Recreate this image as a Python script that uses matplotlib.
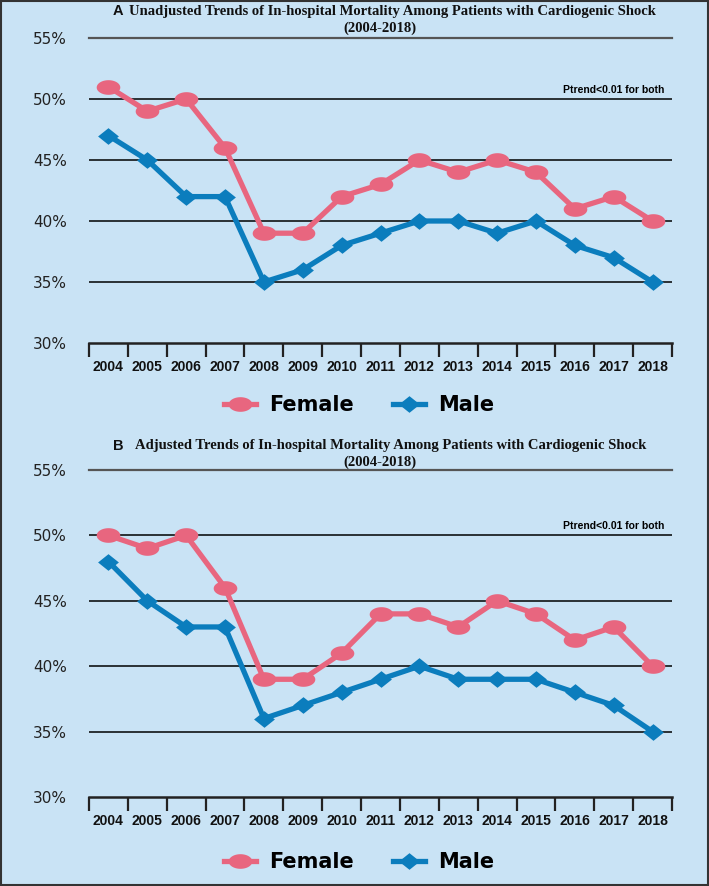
import matplotlib
matplotlib.use("Agg")
import matplotlib.pyplot as plt
import numpy as np
from matplotlib.lines import Line2D
from matplotlib.patches import Rectangle
from matplotlib.path import Path

years = ["2004", "2005", "2006", "2007", "2008", "2009", "2010", "2011",
         "2012", "2013", "2014", "2015", "2016", "2017", "2018"]
female_unadj = [51, 49, 50, 46, 39, 39, 42, 43, 45, 44, 45, 44, 41, 42, 40]
male_unadj = [47, 45, 42, 42, 35, 36, 38, 39, 40, 40, 39, 40, 38, 37, 35]
female_adj = [50, 49, 50, 46, 39, 39, 41, 44, 44, 43, 45, 44, 42, 43, 40]
male_adj = [48, 45, 43, 43, 36, 37, 38, 39, 40, 39, 39, 39, 38, 37, 35]
yticks = [30, 35, 40, 45, 50, 55]
ytick_labels = ["30%", "35%", "40%", "45%", "50%", "55%"]
titles = [("A", "Unadjusted Trends of In-hospital Mortality Among Patients with Cardiogenic Shock"),
          ("B", "Adjusted Trends of In-hospital Mortality Among Patients with Cardiogenic Shock")]
subtitle = "(2004-2018)"
note = "Ptrend<0.01 for both"

BG = "#C9E3F5"
PINK = "#E8667F"
BLUE = "#0B7DBD"

W, H = 709, 886
fig = plt.figure(figsize=(W / 100, H / 100), dpi=100, facecolor=BG)

def fx(px):
    return px / W

def fy(py):
    return 1 - py / H

t = np.linspace(0, 2 * np.pi, 60)
ellipse = Path(np.column_stack([np.cos(t), 0.62 * np.sin(t)]), closed=True)
diamond = Path([(1, 0), (0, 0.8), (-1, 0), (0, -0.8), (1, 0)], closed=True)

FEM_STYLE = dict(color=PINK, lw=3.8, marker=ellipse, markersize=17, markeredgewidth=0)
MAL_STYLE = dict(color=BLUE, lw=3.8, marker=diamond, markersize=15, markeredgewidth=0)

panels = [
    dict(top=38, bottom=343, fem=female_unadj, mal=male_unadj, t1=11, t2=28, tc=392, leg=405),
    dict(top=470, bottom=797, fem=female_adj, mal=male_adj, t1=446, t2=462, tc=391, leg=862),
]

x = np.arange(len(years))
for i, p in enumerate(panels):
    left, right = 89, 672
    ax = fig.add_axes([fx(left), fy(p["bottom"]), fx(right - left), fy(p["top"]) - fy(p["bottom"])])
    ax.set_facecolor(BG)
    ax.set_xlim(-0.5, len(years) - 0.5)
    ax.set_ylim(30, 55)
    for v in [35, 40, 45, 50]:
        ax.axhline(v, color="black", lw=1.1, zorder=1)
    ax.axhline(55, color="#555555", lw=1.6, zorder=1, clip_on=False)
    for s in ["top", "right", "left"]:
        ax.spines[s].set_visible(False)
    ax.spines["bottom"].set_linewidth(1.8)
    ax.spines["bottom"].set_color("#222222")
    ax.set_xticks(np.arange(-0.5, len(years), 1.0))
    ax.set_xticklabels([])
    ax.tick_params(axis="x", which="major", direction="out", length=10, width=1.6, color="#222222")
    ax.set_xticks(x, minor=True)
    ax.set_xticklabels(years, minor=True, fontsize=10, fontweight="bold",
                       family="Liberation Sans", color="#111111")
    ax.tick_params(axis="x", which="minor", length=0, pad=12)
    ax.set_yticks(yticks)
    ax.set_yticklabels(ytick_labels, fontsize=11, family="DejaVu Sans", color="#222222")
    ax.tick_params(axis="y", length=0, pad=16)

    ax.plot(x, p["fem"], zorder=3, clip_on=False, **FEM_STYLE)
    ax.plot(x, p["mal"], zorder=4, clip_on=False, **MAL_STYLE)
    ax.text(14.3, 50.35, note, ha="right", va="bottom", fontsize=7.5,
            fontweight="bold", family="Liberation Sans")

    lab, ttl = titles[i]
    fig.text(fx(p["tc"]), fy(p["t1"]), ttl, ha="center", va="center", fontsize=10.5,
             fontweight="bold", family="Liberation Serif", color="#111111")
    fig.text(fx(118), fy(p["t1"]), lab, ha="center", va="center", fontsize=10.5,
             fontweight="bold", family="Liberation Sans", color="#111111")
    fig.text(fx(380), fy(p["t2"]), subtitle, ha="center", va="center", fontsize=10.5,
             fontweight="bold", family="Liberation Serif", color="#111111")

    handles = [Line2D([], [], **FEM_STYLE), Line2D([], [], **MAL_STYLE)]
    fig.legend(handles, ["Female", "Male"], loc="center", bbox_to_anchor=(fx(359), fy(p["leg"])),
               ncol=2, frameon=False, handlelength=1.55, handletextpad=0.6, columnspacing=1.9,
               prop=dict(size=15, weight="bold", family="DejaVu Sans"))

fig.patches.append(Rectangle((0.001, 0.001), 0.998, 0.998, transform=fig.transFigure,
                             fill=False, edgecolor="#333333", lw=1.5))

fig.savefig("out.png", dpi=100, facecolor=BG)
